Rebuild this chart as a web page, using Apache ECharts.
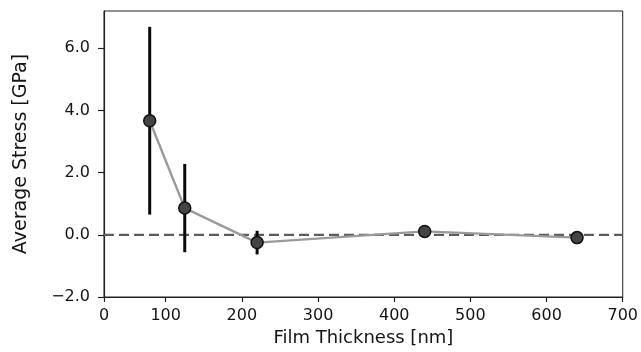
<!DOCTYPE html>
<html>
<head>
<meta charset="utf-8">
<script src="https://cdn.jsdelivr.net/npm/echarts@6/dist/echarts.min.js"></script>
<style>
  html, body { margin: 0; padding: 0; background: #fff; }
  #chart { width: 641px; height: 352px; }
</style>
</head>
<body>
<div id="chart"></div>
<script>
// Film thickness [nm] and measured average stress [GPa] with its spread
const thickness = [79, 125, 220, 440, 640];
const stress = [3.67, 0.86, -0.25, 0.11, -0.09];
const stressErr = [3.02, 1.42, 0.38, 0.08, 0.06];

// Axis ranges and ticks
const xStart = 19;
const xEnd = 700;
const xTicks = [19, 100, 200, 300, 400, 500, 600, 700];
const xTickText = ['0', '100', '200', '300', '400', '500', '600', '700'];
const yMin = -2;
const yMax = 7.2;
const yTicks = [-2, 0, 2, 4, 6];

const font = 'DejaVu Sans';
const ink = '#151515';

const points = thickness.map((t, i) => [t, stress[i]]);
const bars = thickness.map((t, i) => [t, stress[i] - stressErr[i], stress[i] + stressErr[i]]);
const zeroLine = [[xStart, 0], [xEnd, 0]];

const chart = echarts.init(document.getElementById('chart'), null, { renderer: 'canvas' });

chart.setOption({
  animation: false,
  backgroundColor: '#fff',
  grid: {
    left: 104, right: 18, top: 11, bottom: 55,
    show: true, borderColor: '#222', borderWidth: 1, backgroundColor: 'transparent'
  },
  xAxis: {
    type: 'value',
    min: xStart, max: xEnd,
    name: 'Film Thickness [nm]',
    nameLocation: 'middle',
    nameGap: 32,
    nameTextStyle: { fontFamily: font, fontSize: 18, color: ink },
    axisLine: { show: true, onZero: false, lineStyle: { color: '#222', width: 1.2 } },
    axisTick: { show: true, customValues: xTicks, length: 5, lineStyle: { color: '#222', width: 1.2 } },
    axisLabel: {
      customValues: xTicks,
      fontFamily: font, fontSize: 16, color: ink, margin: 11,
      formatter: v => xTickText[xTicks.indexOf(v)]
    },
    splitLine: { show: false }
  },
  yAxis: {
    type: 'value',
    min: yMin, max: yMax,
    name: 'Average Stress [GPa]',
    nameLocation: 'middle',
    nameGap: 73,
    nameTextStyle: { fontFamily: font, fontSize: 19, color: ink },
    axisLine: { show: true, onZero: false, lineStyle: { color: '#222', width: 1.2 } },
    axisTick: { show: true, customValues: yTicks, length: 6, lineStyle: { color: '#222', width: 1.2 } },
    axisLabel: {
      customValues: yTicks,
      fontFamily: font, fontSize: 16, color: ink, margin: 14,
      formatter: v => (v < 0 ? '\u2212' : '') + Math.abs(v).toFixed(1)
    },
    splitLine: { show: false }
  },
  series: [
    {
      // zero-stress reference
      type: 'line',
      data: zeroLine,
      silent: true,
      symbol: 'none',
      lineStyle: { color: '#5c5c5c', width: 2.2, type: [10, 5] },
      z: 1
    },
    {
      type: 'line',
      data: points,
      lineStyle: { color: '#9a9a9a', width: 2.4 },
      symbol: 'circle',
      symbolSize: 12,
      itemStyle: { color: '#444', borderColor: '#111', borderWidth: 1.5 },
      z: 3
    },
    {
      // error bars
      type: 'custom',
      data: bars,
      renderItem: (params, api) => {
        const x = api.value(0);
        const lo = api.coord([x, api.value(1)]);
        const hi = api.coord([x, api.value(2)]);
        return {
          type: 'line',
          shape: { x1: lo[0], y1: lo[1], x2: hi[0], y2: hi[1] },
          style: { stroke: '#0a0a0a', lineWidth: 3 }
        };
      },
      z: 2
    }
  ]
});
</script>
</body>
</html>
